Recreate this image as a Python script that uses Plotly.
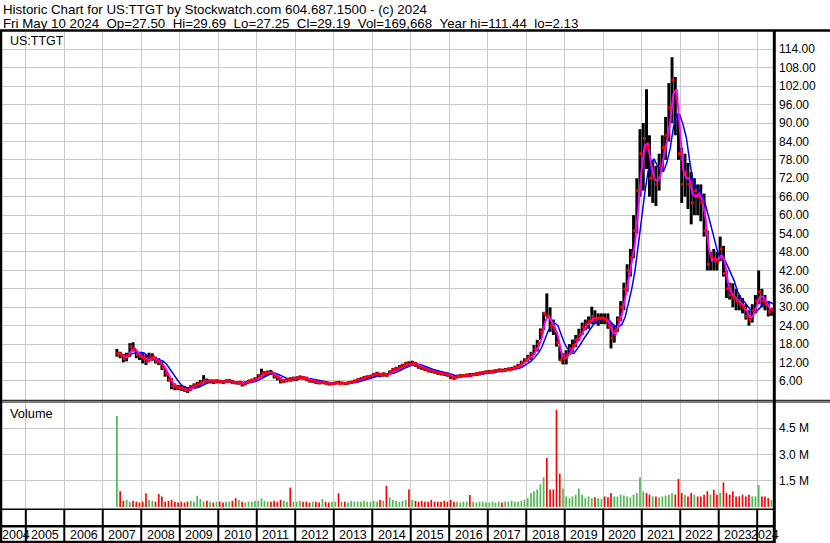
import plotly.graph_objects as go
import pandas as pd
import numpy as np

# ---------------- data (monthly) ----------------
first_month = "2007-05-01"

high = [
    16.4, 15.5, 14.8, 15.2, 18.3, 18.6, 16.1, 15.5,
    15.0, 14.5, 15.2, 15.0, 13.9, 13.4, 12.3, 10.1, 8.0, 6.9, 5.2, 4.7,
    4.7, 4.4, 4.0, 4.7, 5.2, 5.7, 6.3, 7.9, 6.8, 6.5, 6.5, 6.5,
    6.4, 6.2, 6.5, 6.6, 6.3, 6.0, 6.0, 5.8, 5.9, 6.4, 6.7, 7.2,
    8.2, 10.0, 9.2, 9.4, 9.6, 8.8, 7.8, 7.2, 6.6, 7.0, 7.2, 7.4,
    7.5, 7.8, 7.6, 7.4, 6.8, 6.5, 6.3, 6.0, 6.0, 6.0, 5.6, 5.6,
    5.8, 6.0, 5.8, 5.6, 5.8, 6.0, 6.4, 6.8, 7.2, 7.6, 7.8, 8.0,
    8.6, 9.0, 8.6, 8.8, 8.6, 9.4, 10.2, 10.6, 11.2, 11.6, 12.2, 12.4,
    12.6, 12.2, 11.6, 11.0, 10.6, 10.2, 10.0, 9.8, 9.4, 9.2, 9.0, 8.8,
    8.4, 7.8, 8.0, 8.2, 8.2, 8.4, 8.6, 8.6, 8.8, 9.0, 9.2, 9.4,
    9.6, 9.6, 9.8, 10.0, 10.0, 10.2, 10.4, 10.6, 11.0, 11.6, 12.6, 13.4,
    14.5, 15.5, 17.7, 19.4, 23.1, 28.5, 34.5, 30.0, 26.0, 22.0, 17.5, 15.0,
    16.0, 18.0, 19.5, 21.0, 23.0, 25.0, 26.0, 27.0, 30.2, 29.0, 28.0, 28.0,
    28.0, 28.0, 25.0, 24.0, 27.0, 32.0, 38.0, 44.0, 49.0, 60.0, 72.0, 88.0,
    90.0, 101.0, 86.0, 78.0, 76.0, 80.0, 86.0, 92.0, 103.0, 111.44, 105.0, 93.0,
    82.0, 80.0, 77.0, 74.0, 72.0, 70.0, 70.0, 67.0, 55.0, 48.0, 49.0, 48.0,
    53.0, 50.0, 42.0, 38.0, 37.8, 36.0, 34.0, 33.0, 31.0, 29.0, 31.0, 34.0,
    42.0, 36.0, 34.0, 32.0, 29.69,
]

low = [
    13.9, 13.4, 12.1, 12.4, 13.9, 15.6, 13.4, 12.8,
    11.7, 11.2, 12.3, 12.6, 11.7, 11.2, 9.6, 7.4, 5.8, 3.3, 3.0, 3.0,
    2.8, 2.5, 2.13, 2.8, 3.4, 4.0, 4.4, 5.2, 5.2, 5.2, 5.0, 5.2,
    5.2, 5.0, 5.3, 5.4, 5.0, 4.9, 4.8, 4.2, 4.6, 5.2, 5.6, 6.0,
    6.6, 7.2, 7.4, 7.8, 8.0, 6.8, 6.2, 5.2, 5.4, 5.6, 5.8, 6.0,
    6.0, 6.6, 6.5, 6.0, 5.5, 5.4, 5.0, 4.9, 5.0, 4.8, 4.6, 4.6,
    4.8, 5.0, 4.9, 4.7, 4.8, 5.0, 5.3, 5.6, 6.0, 6.4, 6.6, 6.8,
    7.2, 7.6, 7.2, 7.4, 7.4, 8.0, 8.6, 9.2, 9.6, 10.0, 10.6, 10.8,
    11.0, 10.6, 10.0, 9.6, 9.2, 8.8, 8.6, 8.4, 8.0, 7.8, 7.6, 7.4,
    6.6, 6.4, 6.8, 7.0, 7.2, 7.2, 7.4, 7.6, 7.6, 7.8, 8.0, 8.2,
    8.4, 8.4, 8.6, 8.8, 8.8, 9.0, 9.2, 9.4, 9.6, 10.2, 11.0, 11.8,
    12.3, 12.8, 14.5, 15.6, 19.4, 22.6, 27.0, 22.0, 21.0, 17.2, 12.6, 11.4,
    11.4, 14.5, 15.5, 17.0, 19.0, 21.0, 22.5, 23.0, 24.5, 24.5, 24.0, 24.5,
    24.5, 23.0, 16.6, 18.5, 22.0, 25.5, 29.0, 35.0, 40.0, 46.0, 54.0, 66.0,
    68.0, 75.0, 66.0, 64.0, 63.0, 68.0, 74.0, 78.0, 84.0, 90.0, 86.0, 78.0,
    64.0, 66.0, 62.0, 57.0, 60.0, 60.0, 58.0, 53.0, 42.0, 42.0, 42.0, 42.0,
    45.0, 40.0, 33.0, 32.5, 30.0, 29.0, 29.0, 28.0, 26.0, 24.0, 25.0, 28.0,
    31.0, 30.0, 29.0, 27.0, 27.25,
]

close = [
    15.0, 14.5, 13.3, 14.4, 17.2, 16.3, 14.6, 14.0,
    13.5, 12.4, 13.6, 13.8, 12.5, 12.0, 10.4, 8.5, 6.4, 4.4, 4.0, 3.9,
    3.5, 3.1, 3.0, 4.2, 4.6, 5.0, 5.6, 6.2, 6.0, 6.0, 5.8, 6.0,
    5.8, 5.6, 6.0, 6.0, 5.5, 5.4, 5.6, 4.8, 5.5, 6.0, 6.3, 6.8,
    7.6, 8.5, 8.6, 8.8, 8.7, 7.5, 7.0, 6.0, 6.0, 6.5, 6.3, 6.8,
    7.0, 7.2, 7.0, 6.4, 6.0, 6.0, 5.6, 5.4, 5.6, 5.2, 5.0, 5.2,
    5.4, 5.2, 5.3, 5.2, 5.5, 5.7, 6.0, 6.4, 6.8, 7.2, 7.4, 7.6,
    8.2, 8.4, 8.0, 8.3, 7.9, 9.0, 9.8, 10.0, 10.6, 11.0, 11.8, 11.4,
    11.8, 11.2, 10.6, 10.2, 9.8, 9.4, 9.2, 8.8, 8.6, 8.4, 8.2, 8.0,
    7.2, 7.0, 7.6, 7.6, 7.8, 7.9, 7.7, 8.2, 8.4, 8.6, 8.8, 9.0,
    9.0, 9.2, 9.4, 9.6, 9.4, 9.6, 9.8, 10.0, 10.4, 11.0, 12.0, 12.8,
    13.8, 14.6, 16.5, 18.0, 22.0, 28.0, 27.0, 24.0, 23.0, 18.5, 12.8, 13.5,
    14.5, 16.5, 17.5, 19.5, 21.0, 23.5, 24.5, 25.5, 27.0, 26.0, 26.5, 26.5,
    26.0, 24.0, 20.0, 22.5, 26.0, 30.0, 36.0, 42.0, 46.0, 55.0, 68.0, 80.0,
    85.0, 82.0, 72.0, 72.0, 70.0, 76.0, 82.0, 86.0, 95.0, 104.0, 98.0, 80.0,
    70.0, 74.0, 70.0, 64.0, 68.0, 66.0, 64.0, 55.0, 44.0, 46.5, 45.5, 45.0,
    49.0, 41.0, 36.0, 34.0, 33.0, 32.0, 31.0, 30.0, 27.0, 26.0, 29.0, 32.0,
    35.0, 32.0, 31.0, 28.5, 29.19,
]

volume_m = [
    5.2, 0.9, 0.35, 0.4, 0.3, 0.35, 0.3, 0.25,
    0.3, 0.78, 0.4, 0.35, 0.3, 0.74, 0.6, 0.3, 0.35, 0.4, 0.3, 0.25,
    0.3, 0.25, 0.3, 0.35, 0.3, 0.64, 0.45, 0.3, 0.35, 0.3, 0.25, 0.3,
    0.3, 0.25, 0.3, 0.3, 0.35, 0.5, 0.4, 0.3, 0.25, 0.3, 0.3, 0.35,
    0.35, 0.5, 0.35, 0.3, 0.3, 0.35, 0.3, 0.4, 0.35, 0.3, 1.1, 0.3,
    0.3, 0.35, 0.3, 0.3, 0.25, 0.3, 0.3, 0.25, 0.45, 0.3, 0.25, 0.3,
    0.3, 0.78, 0.3, 0.3, 0.25, 0.35, 0.3, 0.3, 0.3, 0.35, 0.3, 0.3,
    0.35, 0.3, 0.4, 0.35, 1.2, 0.55, 0.4, 0.35, 0.3, 0.35, 0.4, 1.0,
    0.4, 0.35, 0.3, 0.35, 0.3, 0.3, 0.4, 0.3, 0.3, 0.3, 0.35, 0.3,
    0.4, 0.3, 0.3, 0.25, 0.3, 0.3, 0.68, 0.3, 0.25, 0.3, 0.3, 0.25,
    0.25, 0.3, 0.25, 0.3, 0.25, 0.3, 0.3, 0.35, 0.3, 0.3, 0.35, 0.4,
    0.5, 0.8, 0.9, 1.0, 1.3, 1.7, 2.8, 1.0, 1.0, 5.55, 1.9, 1.05,
    0.6, 0.5, 0.6, 0.7, 1.05, 0.7, 0.5, 0.6, 0.5, 0.55, 0.5, 0.45,
    0.6, 0.55, 0.8, 0.6, 0.6, 0.7, 0.65, 0.6, 0.55, 0.7, 0.8, 1.7,
    0.9, 0.8, 0.7, 0.6, 0.6, 0.55, 0.6, 0.65, 0.7, 0.8, 0.7, 1.6,
    0.8, 0.7, 0.6, 0.8, 0.7, 0.6, 0.6, 0.7, 0.9, 0.7, 0.98, 0.7,
    0.8, 1.4, 0.8, 0.7, 0.9, 0.6, 0.6, 0.7, 0.6, 0.7, 0.6, 0.6,
    1.25, 0.6, 0.6, 0.5, 0.4,
]

price_ticks = [6, 12, 18, 24, 30, 36, 42, 48, 54, 60, 66, 72, 78, 84, 90, 96, 102, 108, 114]
volume_ticks = [1.5, 3.0, 4.5]
year_labels = list(range(2004, 2025))

title_line1 = "Historic Chart for US:TTGT by Stockwatch.com 604.687.1500 - (c) 2024"
title_line2 = ("Fri May 10 2024  Op=27.50  Hi=29.69  Lo=27.25  Cl=29.19  "
               "Vol=169,668  Year hi=111.44  lo=2.13")
symbol_label = "US:TTGT"
volume_label = "Volume"

# ---------------- derived ----------------
n = len(close)
months = pd.date_range(first_month, periods=n, freq="MS")
mid = months + pd.Timedelta(days=14)
close_x = months + pd.Timedelta(days=24)
hi = np.array(high)
lo = np.array(low)
cl = pd.Series(close)
ma_fast = cl.rolling(2, min_periods=1).mean()
ma_slow = cl.rolling(5, min_periods=3).mean()
ma_x = months + pd.Timedelta(days=27)
prev = cl.shift(1)
vol_colors = ["#4db84d" if (i == 0 or cl[i] >= prev[i]) else "#ff0000" for i in range(n)]

# ---------------- layout geometry ----------------
W, H = 830, 543
ML, MR, MT, MB = 0, 57, 32, 34
PW, PH = W - ML - MR, H - MT - MB


def px_x(x):
    return (x - ML) / PW


def px_y(y):
    return (H - MB - y) / PH


x_start = pd.Timestamp("2004-05-01")
x_end = pd.Timestamp("2024-05-30")
day_ms = 86400000
FONT = "Liberation Sans, Arial, sans-serif"
GRID = "#c8c8c8"

fig = go.Figure()

fig.add_trace(go.Bar(
    x=mid, y=hi - lo, base=lo, width=28 * day_ms,
    marker=dict(color="#000000", line=dict(width=0)),
    xaxis="x", yaxis="y", showlegend=False, hoverinfo="skip"))
fig.add_trace(go.Scatter(
    x=ma_x, y=ma_slow, mode="lines", line=dict(color="#0000ff", width=1.5),
    xaxis="x", yaxis="y", showlegend=False, hoverinfo="skip"))
fig.add_trace(go.Scatter(
    x=ma_x, y=ma_fast, mode="lines", line=dict(color="#ff00ff", width=2),
    xaxis="x", yaxis="y", showlegend=False, hoverinfo="skip"))
fig.add_trace(go.Scatter(
    x=close_x, y=close, mode="markers",
    marker=dict(color="#ff0000", size=3, symbol="square", line=dict(width=0)),
    xaxis="x", yaxis="y", showlegend=False, hoverinfo="skip"))

fig.add_trace(go.Bar(
    x=mid, y=np.array(volume_m) * 1e6, width=16 * day_ms,
    marker=dict(color=vol_colors, line=dict(width=0)),
    xaxis="x2", yaxis="y2", showlegend=False, hoverinfo="skip"))

axis_common = dict(
    type="date", range=[x_start, x_end], showgrid=True, gridcolor=GRID, gridwidth=1,
    tick0="2005-01-01", dtick="M12", showticklabels=False, ticks="",
    zeroline=False, showline=False, fixedrange=True)

fig.update_layout(
    width=W, height=H,
    margin=dict(l=ML, r=MR, t=MT, b=MB, pad=0),
    paper_bgcolor="white", plot_bgcolor="white",
    barmode="overlay", showlegend=False,
    font=dict(family=FONT, size=12, color="#000000"),
    xaxis=dict(domain=[0, 1], anchor="y", **axis_common),
    xaxis2=dict(domain=[0, 1], anchor="y2", matches="x", **axis_common),
    yaxis=dict(
        domain=[px_y(400), 1], range=[-0.195, 119.63], side="right", anchor="x",
        tickvals=price_ticks, ticktext=["%.2f" % v for v in price_ticks],
        showgrid=True, gridcolor=GRID, gridwidth=1, zeroline=False, showline=False,
        ticks="", ticklabelstandoff=5, fixedrange=True,
        tickfont=dict(family=FONT, size=12, color="#000000")),
    yaxis2=dict(
        domain=[0, px_y(402)], range=[-0.12e6, 6.0e6], side="right", anchor="x2",
        tickvals=[v * 1e6 for v in volume_ticks] + [6.0e6],
        ticktext=["%.1f M" % v for v in volume_ticks] + [""],
        showgrid=True, gridcolor=GRID, gridwidth=1, zeroline=False, showline=False,
        ticks="", ticklabelstandoff=5, fixedrange=True,
        tickfont=dict(family=FONT, size=12, color="#000000")),
)

shapes = []


def hline(ypx, x0px, x1px, w):
    shapes.append(dict(type="line", xref="paper", yref="paper",
                       x0=px_x(x0px), x1=px_x(x1px), y0=px_y(ypx), y1=px_y(ypx),
                       line=dict(color="#000000", width=w)))


def vline(xpx, y0px, y1px, w):
    shapes.append(dict(type="line", xref="paper", yref="paper",
                       x0=px_x(xpx), x1=px_x(xpx), y0=px_y(y0px), y1=px_y(y1px),
                       line=dict(color="#000000", width=w)))


hline(30.5, 0, W, 2.5)       # under header
hline(400.3, 0, W, 1)        # double separator
hline(402.0, 0, W, 1)
hline(509.3, 0, 775, 1.5)
hline(526.3, 0, 775, 2.5)
hline(542.0, 0, 775, 2.5)
vline(1, 30, H, 2.5)         # left border
vline(774.3, 30, H, 3)       # right border

# year separators in the bottom rows
for yr in range(2005, 2025):
    shapes.append(dict(type="line", xref="x", yref="paper",
                       x0=pd.Timestamp(f"{yr}-01-01"), x1=pd.Timestamp(f"{yr}-01-01"),
                       y0=px_y(509), y1=px_y(H), line=dict(color="#000000", width=2)))

annotations = []


def text_px(txt, xpx, ypx, size=12, xanchor="left"):
    annotations.append(dict(text=txt, xref="paper", yref="paper",
                            x=px_x(xpx), y=px_y(ypx), xanchor=xanchor, yanchor="middle",
                            showarrow=False, font=dict(family=FONT, size=size, color="#000000")))


text_px(title_line1.replace("  ", "\u00a0\u00a0"), 1, 9.5, size=13.3)
text_px(title_line2.replace("  ", "\u00a0\u00a0"), 1, 23.5, size=13.3)
text_px(symbol_label, 8, 41.5, size=12.5)
text_px(volume_label, 8, 413.5, size=12.8)

for yr in year_labels:
    a = max(pd.Timestamp(f"{yr}-01-01"), x_start)
    b = min(pd.Timestamp(f"{yr + 1}-01-01"), x_end)
    if yr == year_labels[0]:
        annotations.append(dict(text=str(yr), xref="paper", yref="paper", x=px_x(0),
                                y=px_y(534.5), xanchor="left", yanchor="middle",
                                showarrow=False,
                                font=dict(family=FONT, size=12.5, color="#000000")))
        continue
    c = a + (b - a) / 2
    annotations.append(dict(text=str(yr), xref="x", yref="paper", x=c, y=px_y(534.5),
                            xanchor="center", yanchor="middle", showarrow=False,
                            font=dict(family=FONT, size=12.5, color="#000000")))

fig.update_layout(shapes=shapes, annotations=annotations)

fig.write_html(
    "out.html",
    config={"displayModeBar": False, "staticPlot": True},
    post_script="document.body.style.margin='0';document.body.style.padding='0';"
                "document.body.style.overflow='hidden';",
)
